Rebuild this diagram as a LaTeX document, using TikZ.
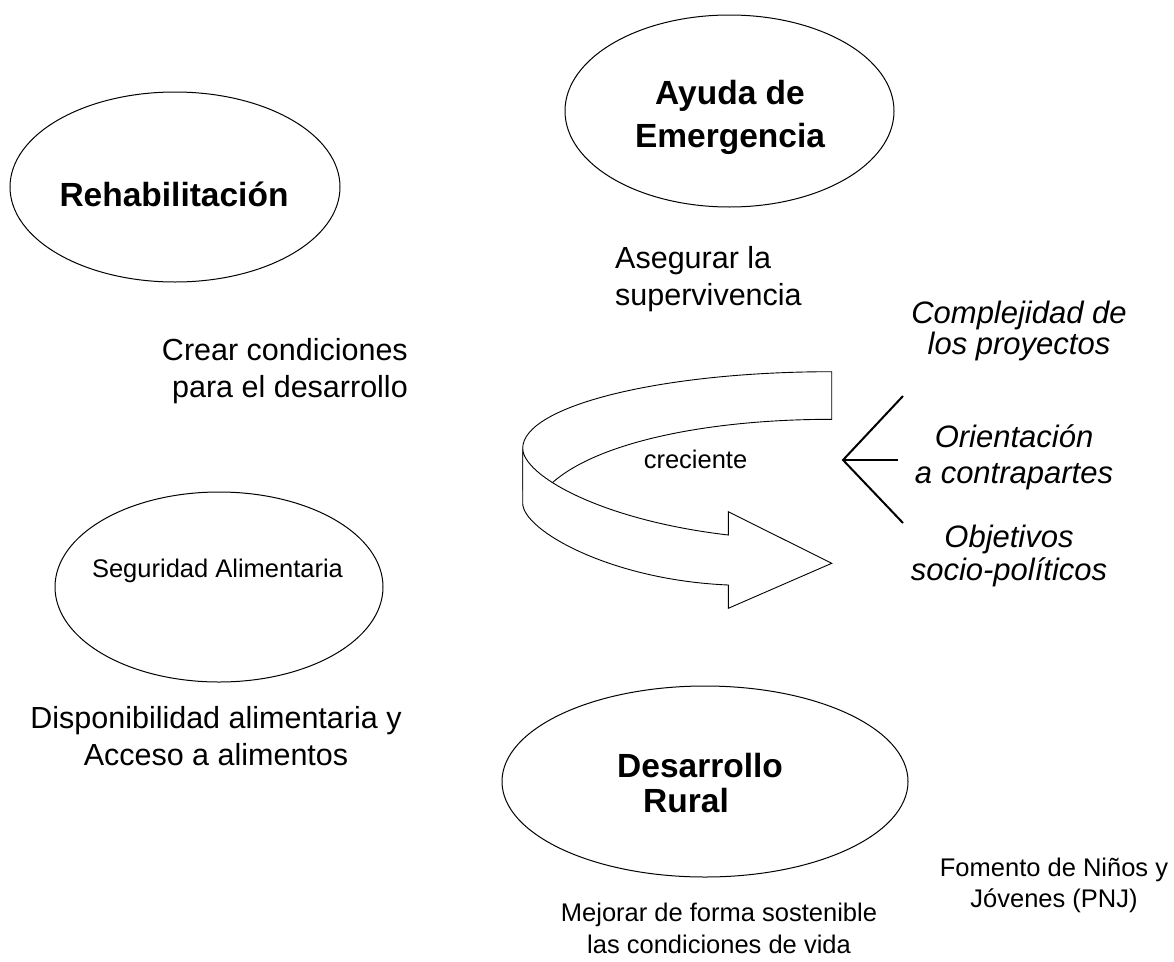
\documentclass[tikz,border=0pt]{standalone}
\usepackage{fontspec}
\setmainfont{Liberation Sans}
\usepackage{tikz}
\usetikzlibrary{shapes.geometric}

\begin{document}
\begin{tikzpicture}[x=1pt, y=-1pt,
        ovalo/.style={draw, line width=1pt, ellipse, inner sep=0pt},
        titulo/.style={font=\bfseries\fontsize{33.5}{#1}\selectfont, inner sep=0pt, align=center},
        texto/.style={font=\fontsize{30.5}{#1}\selectfont, inner sep=0pt, align=center},
        chico/.style={font=\fontsize{25.5}{#1}\selectfont, inner sep=0pt, align=center},
        cursiva/.style={font=\itshape\fontsize{31}{#1}\selectfont, inner sep=0pt, align=center},
        cinta/.style={draw, fill=white, line width=0.9pt, line join=miter},
        rama/.style={line width=2pt}
    ]
    \useasboundingbox (0,0) rectangle (1174,961);

    % ovalos
    \node[ovalo, minimum width=330, minimum height=190] (rehab) at (175,187) {};
    \node[ovalo, minimum width=329, minimum height=192] (ayuda) at (729.5,111) {};
    \node[ovalo, minimum width=328, minimum height=190] (segur) at (219,587) {};
    \node[ovalo, minimum width=406, minimum height=191] (desarr) at (705,781.5) {};

    \node[titulo=40, anchor=base] (rehabtxt) at (174,206.7) {Rehabilitación};
    \node[titulo=43, anchor=base] (ayudatxt) at (730,147) {Ayuda de\\Emergencia};
    \node[chico=31, anchor=base] (segurtxt) at (217.5,577) {Seguridad Alimentaria};
    \node[titulo=35, anchor=base west, align=left] (desarrtxt) at (617,812) {Desarrollo\\\hspace*{26pt}Rural};

    % objetivos de cada fase
    \node[texto=37, anchor=base west, align=left] (asegurar) at (615,305) {Asegurar la\\supervivencia};
    \node[texto=37, anchor=base east, align=right] (crear) at (408,397) {Crear condiciones\\para el desarrollo};
    \node[texto=37, anchor=base] (dispon) at (216,765) {Disponibilidad alimentaria y\\Acceso a alimentos};
    \node[chico=32, anchor=base] (mejorar) at (719,953) {Mejorar de forma sostenible\\las condiciones de vida};
    \node[chico=31, anchor=base] (fomento) at (1054,907) {Fomento de Niños y\\Jóvenes (PNJ)};

    % flecha curva
    \draw[cinta] (831.7,371.7) .. controls (661,371.7) and (522.7,406) .. (522.7,448.3)
        -- (522.7,490) -- (545,490)
        .. controls (585,445) and (700,419.3) .. (831.7,419.3) -- cycle;
    \draw[cinta] (522.7,448.3) .. controls (522.7,475) and (600,520) .. (728.3,535)
        -- (728.3,511.7) -- (831.7,563.3) -- (728.3,608.3) -- (728.3,585)
        .. controls (610,580) and (522.7,530) .. (522.7,503.3) -- cycle;
    \node[chico=31, anchor=base] (crec) at (695.5,468) {creciente};

    % bifurcacion
    \coordinate (bif) at (843,460);
    \coordinate (bifa) at (903,396);
    \coordinate (bifb) at (898,460);
    \coordinate (bifc) at (903,523);
    \draw[rama] (bifa) -- (bif) -- (bifc);
    \draw[rama] (bif) -- (bifb);

    \node[cursiva=31, anchor=base] (complej) at (1019,354) {Complejidad de\\los proyectos};
    \node[cursiva=36, anchor=base] (orient) at (1014,483) {Orientación\\a contrapartes};
    \node[cursiva=33, anchor=base] (objet) at (1009,580) {Objetivos\\socio-políticos};
\end{tikzpicture}
\end{document}
